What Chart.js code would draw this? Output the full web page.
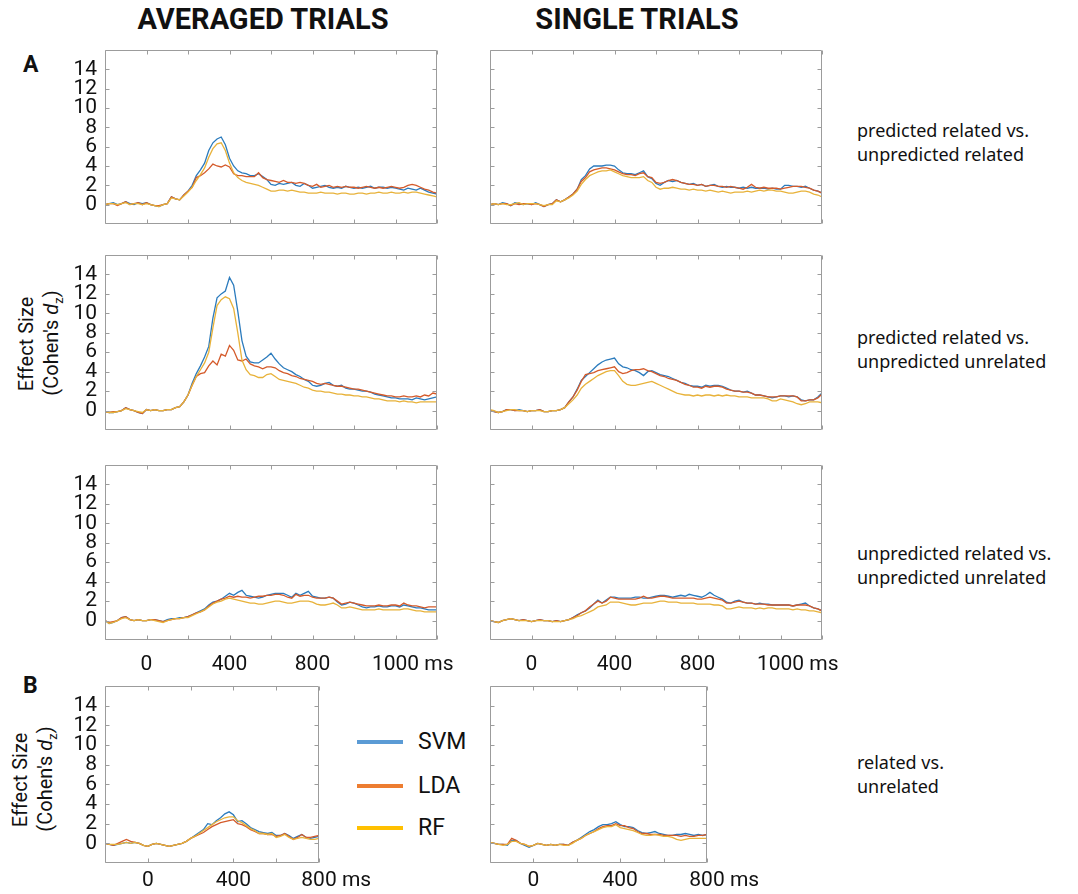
<!DOCTYPE html>
<html>
<head>
<meta charset="utf-8">
<script src="https://cdn.jsdelivr.net/npm/chart.js@4.4.1/dist/chart.umd.min.js"></script>
<style>
  body { margin: 0; background: #fff; }
  #page { position: relative; width: 1078px; height: 894px; overflow: hidden; font-family: Roboto, sans-serif; color: #111; }
  canvas { position: absolute; }
  .title { position: absolute; font-weight: 700; font-size: 29px; line-height: 29px; transform: translateX(-50%); white-space: nowrap; }
  .letter { position: absolute; font-weight: 700; font-size: 23px; line-height: 23px; }
  .row-label { position: absolute; left: 857px; font-family: "Noto Sans", sans-serif; font-size: 18px; line-height: 24px; white-space: nowrap; color: #111; }
  .ytitle { position: absolute; font-size: 20px; line-height: 20px; white-space: nowrap; transform: translate(-50%, -50%) rotate(-90deg); }
  .legend-line { position: absolute; left: 357px; width: 46px; height: 4px; }
  .legend-text { position: absolute; left: 418px; font-size: 23px; line-height: 23px; }
</style>
</head>
<body>
<div id="page">
  <div class="title" style="left:263px; top:5px;">AVERAGED TRIALS</div>
  <div class="title" style="left:637px; top:5px;">SINGLE TRIALS</div>
  <div class="letter" style="left:23px; top:53px;">A</div>
  <div class="letter" style="left:23px; top:674px;">B</div>

  <div class="ytitle" style="left:26px; top:344px;">Effect Size</div>
  <div class="ytitle" style="left:55px; top:343px;">(Cohen's <i>d</i><sub style="font-size:13px">z</sub>)</div>
  <div class="ytitle" style="left:20px; top:780px;">Effect Size</div>
  <div class="ytitle" style="left:49px; top:779px;">(Cohen's <i>d</i><sub style="font-size:13px">z</sub>)</div>

  <div class="row-label" style="top:118px;">predicted related vs.<br>unpredicted related</div>
  <div class="row-label" style="top:325px;">predicted related vs.<br>unpredicted unrelated</div>
  <div class="row-label" style="top:541px;">unpredicted related vs.<br>unpredicted unrelated</div>
  <div class="row-label" style="top:750px;">related vs.<br>unrelated</div>

  <div class="legend-line" style="top:740px; background:#5b9bd5;"></div>
  <div class="legend-text" style="top:730px;">SVM</div>
  <div class="legend-line" style="top:784px; background:#ed7d31;"></div>
  <div class="legend-text" style="top:774px;">LDA</div>
  <div class="legend-line" style="top:826px; background:#ffc000;"></div>
  <div class="legend-text" style="top:816px;">RF</div>
</div>
<script>
// time axis (ms)
const timesLong = [
  -200, -180, -160, -140, -120, -100, -80, -60, -40, -20,
  0, 20, 40, 60, 80, 100, 120, 140, 160, 180,
  200, 220, 240, 260, 280, 300, 320, 340, 360, 380,
  400, 420, 440, 460, 480, 500, 520, 540, 560, 580,
  600, 620, 640, 660, 680, 700, 720, 740, 760, 780,
  800, 820, 840, 860, 880, 900, 920, 940, 960, 980,
  1000, 1020, 1040, 1060, 1080, 1100, 1120, 1140, 1160, 1180,
  1200, 1220, 1240, 1260, 1280, 1300, 1320, 1340, 1360, 1380,
  1400
];
const timesShort = [
  -200, -180, -160, -140, -120, -100, -80, -60, -40, -20,
  0, 20, 40, 60, 80, 100, 120, 140, 160, 180,
  200, 220, 240, 260, 280, 300, 320, 340, 360, 380,
  400, 420, 440, 460, 480, 500, 520, 540, 560, 580,
  600, 620, 640, 660, 680, 700, 720, 740, 760, 780,
  800
];

const yTickValues = [0, 2, 4, 6, 8, 10, 12, 14];
const xTickMarksLong = [-200, 0, 200, 400, 600, 800, 1000, 1200, 1400];
const xTickMarksShort = [-200, 0, 200, 400, 600, 800];
const xLabelValuesLong = [0, 400, 800, 1200];
const xLabelTextsLong = ["0", "400", "800", "1000 ms"];
const xLabelValuesShort = [0, 400, 800];
const xLabelTextsShort = ["0", "400", "800 ms"];

const seriesNames = ["SVM", "LDA", "RF"];
const lineColors = ["#2b7bbd", "#d45a2a", "#e8b23a"];

// A, row 1: predicted related vs. unpredicted related
const avgRow1Svm = [
  0.0, 0.1, 0.2, 0.0, 0.1, 0.3, 0.1, 0.0, 0.2, 0.1,
  0.2, 0.0, -0.1, -0.2, 0.0, 0.1, 0.8, 0.6, 0.5, 1.0,
  1.4, 2.0, 3.0, 3.6, 4.3, 5.6, 6.4, 6.8, 7.0, 6.2,
  4.8, 4.0, 3.5, 3.3, 3.2, 3.0, 3.0, 3.2, 2.9, 2.6,
  2.1, 2.0, 2.2, 2.1, 2.2, 2.3, 2.0, 1.9, 2.2, 2.0,
  1.7, 1.8, 1.9, 2.0, 1.8, 1.7, 1.8, 1.7, 1.9, 1.8,
  1.7, 1.8, 1.7, 1.8, 1.9, 1.7, 1.8, 1.8, 1.7, 1.8,
  1.7, 1.6, 1.5, 1.7, 1.6, 1.5, 1.7, 1.5, 1.3, 1.2,
  1.1
];
const avgRow1Lda = [
  0.0, 0.1, 0.1, -0.1, 0.1, 0.3, 0.0, 0.1, 0.2, 0.0,
  0.2, 0.0, -0.1, -0.1, 0.0, 0.1, 0.8, 0.6, 0.5, 1.0,
  1.4, 1.8, 2.8, 3.0, 3.3, 3.7, 4.2, 4.0, 3.9, 4.1,
  3.9, 3.2, 3.0, 3.0, 2.9, 2.9, 2.9, 3.3, 2.8, 2.6,
  2.5, 2.4, 2.3, 2.5, 2.3, 2.3, 2.2, 2.3, 2.2, 2.0,
  1.9, 2.1, 1.8, 1.9, 2.0, 1.8, 1.9, 1.8, 1.9, 1.8,
  1.8, 1.7, 1.8, 1.9, 1.8, 1.7, 1.8, 1.7, 1.8, 1.9,
  1.8, 1.7, 1.8, 2.0, 2.1, 2.0, 1.8, 1.6, 1.5, 1.3,
  1.2
];
const avgRow1Rf = [
  0.0, 0.1, 0.1, 0.0, 0.1, 0.2, 0.0, 0.1, 0.1, 0.0,
  0.1, 0.0, -0.1, -0.2, 0.0, 0.1, 0.7, 0.6, 0.5, 0.9,
  1.3, 1.8, 2.5, 3.1, 3.8, 4.9, 5.8, 6.3, 6.4, 5.6,
  4.3, 3.3, 2.8, 2.5, 2.3, 2.2, 2.1, 2.0, 1.8, 1.6,
  1.4, 1.4, 1.5, 1.5, 1.4, 1.5, 1.4, 1.3, 1.3, 1.2,
  1.2, 1.2, 1.3, 1.2, 1.2, 1.2, 1.1, 1.2, 1.2, 1.1,
  1.1, 1.2, 1.2, 1.1, 1.2, 1.2, 1.3, 1.2, 1.2, 1.3,
  1.2, 1.2, 1.3, 1.2, 1.3, 1.3, 1.2, 1.1, 1.0, 0.9,
  0.8
];
const singleRow1Svm = [
  0.0, 0.1, 0.0, 0.2, 0.1, -0.1, 0.2, 0.1, 0.0, 0.1,
  0.0, 0.2, 0.0, -0.2, 0.0, 0.1, 0.5, 0.3, 0.5, 0.8,
  1.1, 1.6, 2.6, 3.0, 3.7, 4.0, 4.0, 4.0, 4.1, 4.1,
  4.0, 3.6, 3.3, 3.2, 3.2, 3.1, 3.3, 3.5, 2.9, 2.7,
  2.2, 2.0, 2.3, 2.5, 2.4, 2.5, 2.3, 2.2, 2.1, 2.2,
  2.0, 2.1, 1.9, 2.0, 2.1, 1.9, 1.8, 1.9, 1.8, 1.8,
  1.7, 1.8, 1.7, 1.8, 1.7, 1.7, 1.7, 1.6, 1.7, 1.6,
  1.6, 2.0, 2.0, 1.9, 1.9, 1.8, 1.9, 1.7, 1.5, 1.4,
  1.2
];
const singleRow1Lda = [
  0.0, 0.1, 0.0, 0.1, 0.1, -0.1, 0.1, 0.0, 0.1, 0.1,
  0.0, 0.1, 0.0, -0.2, 0.0, 0.1, 0.5, 0.3, 0.5, 0.8,
  1.1, 1.6, 2.4, 2.8, 3.4, 3.6, 3.7, 3.8, 3.8, 3.7,
  3.6, 3.4, 3.2, 3.1, 3.1, 3.0, 3.2, 3.3, 2.9, 2.8,
  2.3, 2.2, 2.3, 2.5, 2.6, 2.5, 2.3, 2.2, 2.1, 2.1,
  2.0, 2.1, 1.9, 2.0, 2.0, 1.9, 1.9, 1.8, 1.9, 1.8,
  1.7, 1.6, 1.8, 2.1, 1.8, 1.7, 1.8, 1.7, 1.7, 1.7,
  1.6, 1.7, 1.8, 1.9, 1.9, 1.9, 1.8, 1.7, 1.5, 1.4,
  1.2
];
const singleRow1Rf = [
  0.0, 0.1, 0.0, 0.1, 0.0, 0.0, 0.1, 0.2, 0.0, 0.1,
  0.1, 0.1, 0.0, -0.1, 0.0, 0.0, 0.4, 0.3, 0.5, 0.7,
  1.0, 1.4, 2.1, 2.6, 3.0, 3.2, 3.4, 3.5, 3.5, 3.6,
  3.4, 3.2, 3.0, 2.9, 2.8, 2.8, 2.8, 2.9, 2.5, 2.3,
  1.8, 1.6, 1.7, 1.7, 1.8, 1.7, 1.6, 1.6, 1.5, 1.6,
  1.5, 1.5, 1.4, 1.5, 1.4, 1.3, 1.4, 1.3, 1.2, 1.3,
  1.3, 1.3, 1.4, 1.3, 1.4, 1.5, 1.4, 1.5, 1.5, 1.4,
  1.4, 1.3, 1.2, 1.2, 1.3, 1.4, 1.4, 1.3, 1.1, 1.0,
  0.8
];

// A, row 2: predicted related vs. unpredicted unrelated
const avgRow2Svm = [
  -0.1, -0.2, -0.2, -0.1, 0.0, 0.3, 0.1, 0.0, -0.2, -0.3,
  0.1, 0.0, 0.1, 0.0, 0.0, 0.1, 0.1, 0.3, 0.4, 0.9,
  1.6, 2.8, 3.8, 4.6, 5.5, 6.6, 9.5, 11.6, 12.0, 12.3,
  13.7, 12.9, 10.2, 7.2, 5.6, 5.0, 4.9, 4.9, 5.2, 5.5,
  5.9, 5.3, 4.8, 4.4, 4.2, 4.0, 3.7, 3.5, 3.2, 3.0,
  2.6, 2.5, 2.6, 2.8, 2.9, 2.6, 2.5, 2.6, 2.3, 2.2,
  2.2, 2.1, 2.0, 2.0, 1.9, 1.7, 1.6, 1.5, 1.4, 1.3,
  1.3, 1.2, 1.2, 1.2, 1.1, 1.3, 1.2, 1.1, 1.2, 1.3,
  1.4
];
const avgRow2Lda = [
  -0.1, -0.2, -0.1, -0.1, 0.0, 0.3, 0.1, 0.0, -0.2, -0.3,
  0.1, 0.0, 0.1, 0.0, 0.0, 0.1, 0.1, 0.3, 0.4, 0.9,
  1.6, 2.6, 3.5, 3.8, 3.9, 4.6, 5.1, 4.7, 5.8, 5.6,
  6.7, 6.2, 5.2, 5.1, 5.3, 4.8, 4.6, 4.5, 4.3, 4.5,
  4.5, 4.4, 4.1, 3.9, 3.8, 3.6, 3.5, 3.3, 3.2, 3.1,
  3.0, 2.8, 2.7, 2.8, 2.7, 2.6, 2.5, 2.5, 2.4, 2.3,
  2.2, 2.2, 2.1, 2.0, 1.9, 1.8, 1.7, 1.6, 1.5, 1.5,
  1.4, 1.4, 1.5, 1.4, 1.4, 1.5, 1.4, 1.6, 1.5, 1.8,
  1.7
];
const avgRow2Rf = [
  -0.1, -0.2, -0.2, -0.1, 0.0, 0.2, 0.1, 0.0, -0.1, -0.2,
  0.1, 0.0, 0.1, 0.0, 0.0, 0.1, 0.1, 0.3, 0.4, 0.9,
  1.6, 2.6, 3.5, 4.2, 4.9, 6.0, 8.5, 10.8, 11.4, 11.7,
  11.5, 10.5, 8.0, 5.2, 4.2, 3.7, 3.6, 3.4, 3.4, 3.7,
  3.8, 3.5, 3.2, 3.1, 3.0, 2.9, 2.8, 2.6, 2.4, 2.3,
  2.1, 2.0, 2.0, 1.9, 1.9, 1.8, 1.7, 1.7, 1.6, 1.6,
  1.5, 1.5, 1.4, 1.4, 1.3, 1.2, 1.2, 1.1, 1.0, 1.0,
  1.0, 0.9, 1.0, 0.9, 0.9, 0.8, 0.9, 0.9, 0.9, 0.9,
  0.9
];
const singleRow2Svm = [
  0.0, -0.1, -0.2, -0.1, 0.1, 0.1, 0.0, 0.1, 0.0, -0.1,
  0.0, 0.0, 0.1, -0.1, -0.1, 0.0, 0.0, 0.1, 0.3, 0.9,
  1.4, 2.2, 3.1, 3.5, 3.9, 4.3, 4.7, 5.0, 5.2, 5.3,
  5.4, 4.8, 4.5, 4.4, 4.2, 4.1, 3.9, 3.6, 4.0, 4.1,
  3.9, 3.7, 3.6, 3.5, 3.3, 3.1, 2.9, 2.8, 2.6, 2.5,
  2.5, 2.4, 2.6, 2.5, 2.6, 2.6, 2.5, 2.3, 2.1, 2.0,
  2.0, 1.9, 2.0, 1.8, 1.6, 1.6, 1.5, 1.4, 1.3, 1.4,
  1.5, 1.5, 1.4, 1.5, 1.4, 1.1, 1.0, 1.1, 1.1, 1.4,
  1.8
];
const singleRow2Lda = [
  0.0, -0.1, -0.2, -0.1, 0.1, 0.1, 0.0, 0.0, 0.0, -0.1,
  0.0, 0.0, 0.1, -0.1, -0.1, 0.0, 0.0, 0.1, 0.3, 0.9,
  1.4, 2.1, 3.0, 3.7, 3.8, 3.9, 4.1, 4.2, 4.3, 4.4,
  4.5, 4.0, 3.8, 3.9, 4.1, 4.2, 4.2, 4.3, 4.1, 4.0,
  3.8, 3.6, 3.5, 3.3, 3.2, 3.1, 2.9, 2.7, 2.6, 2.4,
  2.4, 2.3, 2.5, 2.4, 2.5, 2.5, 2.4, 2.2, 2.1, 2.0,
  2.0, 1.9, 1.9, 1.8, 1.6, 1.6, 1.5, 1.4, 1.4, 1.4,
  1.5, 1.5, 1.5, 1.5, 1.4, 1.0, 1.0, 1.1, 1.1, 1.3,
  1.7
];
const singleRow2Rf = [
  0.1, 0.0, -0.2, -0.1, 0.0, 0.1, 0.1, 0.0, 0.0, -0.1,
  0.0, 0.0, 0.0, -0.1, -0.1, 0.0, 0.0, 0.1, 0.3, 0.7,
  1.1, 1.6, 2.3, 2.7, 3.0, 3.3, 3.6, 3.8, 4.0, 4.1,
  4.1, 3.6, 3.0, 2.7, 2.6, 2.6, 2.7, 2.8, 2.9, 3.0,
  2.8, 2.6, 2.4, 2.2, 2.0, 1.8, 1.7, 1.6, 1.6, 1.5,
  1.6, 1.5, 1.6, 1.6, 1.5, 1.6, 1.5, 1.6, 1.5, 1.5,
  1.4, 1.4, 1.4, 1.3, 1.3, 1.3, 1.3, 1.2, 1.0, 1.0,
  1.2, 1.1, 1.0, 0.9, 0.7, 0.6, 0.7, 0.9, 0.9, 0.9,
  0.8
];

// A, row 3: unpredicted related vs. unpredicted unrelated
const avgRow3Svm = [
  0.0, -0.3, -0.2, 0.0, 0.3, 0.4, 0.1, 0.0, 0.1, 0.0,
  0.0, 0.1, 0.1, 0.0, -0.1, 0.1, 0.2, 0.2, 0.3, 0.3,
  0.4, 0.6, 0.8, 1.0, 1.2, 1.6, 1.9, 2.0, 2.2, 2.5,
  2.8, 2.6, 2.9, 3.1, 2.6, 2.5, 2.4, 2.3, 2.4, 2.6,
  2.7, 2.8, 2.8, 2.8, 2.6, 2.4, 2.8, 2.6, 2.8, 3.0,
  2.5, 2.4, 2.3, 2.3, 2.4, 2.3, 1.9, 1.6, 1.7, 1.9,
  1.8, 1.6, 1.4, 1.3, 1.4, 1.4, 1.5, 1.4, 1.4, 1.5,
  1.5, 1.4, 1.6, 1.5, 1.4, 1.3, 1.3, 1.2, 1.1, 1.1,
  1.1
];
const avgRow3Lda = [
  0.0, -0.2, -0.1, 0.0, 0.3, 0.4, 0.1, 0.0, 0.1, 0.0,
  0.0, 0.1, 0.1, 0.0, -0.1, 0.0, 0.1, 0.2, 0.2, 0.3,
  0.4, 0.6, 0.8, 0.9, 1.1, 1.5, 1.8, 2.0, 2.2, 2.3,
  2.5, 2.4, 2.5, 2.4, 2.4, 2.3, 2.4, 2.5, 2.5, 2.6,
  2.6, 2.7, 2.7, 2.6, 2.4, 2.3, 2.7, 2.5, 2.6, 2.6,
  2.4, 2.3, 2.3, 2.3, 2.4, 2.3, 2.0, 1.7, 1.8, 1.9,
  1.8, 1.7, 1.6, 1.5, 1.5, 1.5, 1.6, 1.5, 1.5, 1.6,
  1.6, 1.5, 1.8, 1.6, 1.5, 1.5, 1.4, 1.3, 1.4, 1.4,
  1.4
];
const avgRow3Rf = [
  0.0, -0.3, -0.2, 0.0, 0.2, 0.3, 0.1, 0.0, 0.1, 0.0,
  0.0, 0.1, 0.0, -0.1, -0.2, 0.0, 0.1, 0.2, 0.2, 0.3,
  0.3, 0.5, 0.7, 0.9, 1.1, 1.4, 1.7, 1.9, 2.0, 2.2,
  2.3, 2.2, 2.1, 2.0, 1.9, 1.8, 1.8, 1.7, 1.7, 1.8,
  1.9, 2.0, 2.0, 1.9, 1.8, 1.8, 1.9, 2.0, 2.0, 2.0,
  1.9, 1.7, 1.6, 1.6, 1.7, 1.8, 1.6, 1.3, 1.3, 1.4,
  1.3, 1.2, 1.1, 1.1, 1.1, 1.1, 1.2, 1.1, 1.1, 1.1,
  1.1, 1.1, 1.2, 1.2, 1.1, 1.0, 1.0, 0.9, 0.9, 0.9,
  0.9
];
const singleRow3Svm = [
  0.0, -0.1, -0.2, 0.0, 0.1, 0.2, 0.1, 0.0, 0.1, 0.0,
  -0.1, 0.0, 0.1, 0.0, 0.0, -0.1, 0.0, -0.1, 0.0, 0.1,
  0.3, 0.6, 0.8, 1.0, 1.3, 1.7, 2.1, 1.8, 2.1, 2.4,
  2.4, 2.3, 2.3, 2.3, 2.3, 2.4, 2.4, 2.3, 2.3, 2.4,
  2.5, 2.6, 2.6, 2.5, 2.4, 2.5, 2.6, 2.5, 2.7, 2.6,
  2.5, 2.4, 2.6, 2.9, 2.6, 2.4, 2.2, 1.9, 1.8, 2.0,
  2.1, 1.9, 1.8, 1.8, 1.7, 1.8, 1.7, 1.7, 1.6, 1.6,
  1.6, 1.6, 1.6, 1.5, 1.6, 1.7, 1.8, 1.5, 1.3, 1.2,
  1.0
];
const singleRow3Lda = [
  0.0, -0.1, -0.2, 0.0, 0.1, 0.2, 0.1, 0.0, 0.1, 0.0,
  -0.1, 0.0, 0.1, 0.0, 0.0, -0.1, 0.0, -0.1, 0.0, 0.1,
  0.3, 0.5, 0.8, 1.0, 1.4, 1.7, 2.0, 1.8, 2.0, 2.4,
  2.3, 2.2, 2.2, 2.2, 2.2, 2.2, 2.3, 2.5, 2.3, 2.3,
  2.4, 2.5, 2.5, 2.4, 2.3, 2.3, 2.3, 2.3, 2.3, 2.3,
  2.2, 2.2, 2.3, 2.4, 2.3, 2.2, 2.1, 1.8, 1.8, 1.9,
  2.0, 1.9, 1.8, 1.8, 1.7, 1.7, 1.7, 1.6, 1.6, 1.6,
  1.6, 1.6, 1.6, 1.5, 1.6, 1.6, 1.6, 1.5, 1.3, 1.2,
  1.0
];
const singleRow3Rf = [
  0.0, -0.1, -0.2, 0.0, 0.1, 0.2, 0.1, 0.0, 0.0, 0.0,
  -0.1, 0.0, 0.0, 0.0, 0.0, -0.1, -0.1, -0.1, 0.0, 0.1,
  0.2, 0.4, 0.5, 0.7, 0.9, 1.1, 1.4, 1.5, 1.6, 1.9,
  1.9, 1.9, 1.8, 1.7, 1.6, 1.6, 1.7, 1.8, 1.8, 1.8,
  1.9, 2.0, 2.0, 1.9, 1.9, 1.9, 1.8, 1.8, 1.8, 1.8,
  1.7, 1.7, 1.7, 1.7, 1.6, 1.6, 1.5, 1.2, 1.2, 1.3,
  1.4, 1.3, 1.3, 1.3, 1.2, 1.3, 1.2, 1.3, 1.3, 1.2,
  1.2, 1.2, 1.2, 1.1, 1.2, 1.1, 1.1, 1.0, 1.0, 0.9,
  0.8
];

// B: related vs. unrelated
const avgBSvm = [
  0.0, -0.1, -0.2, -0.1, 0.0, 0.1, 0.0, 0.1, 0.0, -0.2,
  -0.3, -0.1, 0.0, -0.1, -0.2, -0.3, -0.2, -0.1, 0.0, 0.2,
  0.5, 0.8, 1.1, 1.4, 2.0, 1.9, 2.3, 2.6, 3.0, 3.2,
  2.9, 2.2, 2.3, 2.0, 1.6, 1.4, 1.2, 1.1, 1.0, 1.1,
  0.8, 0.8, 1.0, 0.8, 0.5, 0.7, 0.9, 0.6, 0.5, 0.6,
  0.7
];
const avgBLda = [
  0.0, -0.1, -0.2, 0.0, 0.2, 0.4, 0.2, 0.1, 0.0, -0.2,
  -0.3, -0.1, 0.0, -0.1, -0.2, -0.3, -0.2, -0.1, 0.0, 0.2,
  0.5, 0.7, 0.9, 1.1, 1.4, 1.7, 1.9, 2.1, 2.2, 2.3,
  2.4, 2.0, 1.9, 1.7, 1.4, 1.2, 1.0, 1.0, 0.9, 0.9,
  0.7, 0.8, 1.0, 0.7, 0.4, 0.6, 0.9, 0.6, 0.6, 0.7,
  0.8
];
const avgBRf = [
  0.0, -0.1, -0.1, -0.1, 0.0, 0.1, 0.0, 0.1, 0.0, -0.2,
  -0.3, -0.1, 0.0, -0.1, -0.2, -0.3, -0.2, -0.1, 0.0, 0.2,
  0.5, 0.7, 1.0, 1.3, 1.6, 1.9, 2.2, 2.4, 2.6, 2.7,
  2.7, 2.3, 2.1, 1.8, 1.5, 1.3, 1.0, 1.0, 0.9, 1.0,
  0.6, 0.7, 0.9, 0.6, 0.4, 0.5, 0.6, 0.5, 0.4, 0.4,
  0.5
];
const singleBSvm = [
  0.1, 0.0, -0.1, -0.1, -0.2, 0.3, 0.3, 0.0, -0.2, -0.4,
  -0.2, 0.0, -0.1, -0.2, -0.1, -0.2, -0.1, -0.1, -0.2, 0.1,
  0.3, 0.6, 0.9, 1.2, 1.4, 1.7, 1.9, 1.9, 2.0, 2.2,
  1.9, 1.7, 1.7, 1.6, 1.3, 1.1, 1.0, 1.1, 1.2, 1.0,
  0.9, 0.8, 0.8, 0.9, 0.9, 1.0, 0.9, 0.8, 0.9, 0.8,
  0.9
];
const singleBLda = [
  0.1, 0.0, -0.1, -0.1, -0.1, 0.5, 0.3, 0.0, -0.1, -0.3,
  -0.2, 0.0, -0.1, -0.2, -0.1, -0.2, -0.1, -0.1, -0.2, 0.1,
  0.3, 0.5, 0.8, 1.0, 1.2, 1.5, 1.7, 1.8, 1.8, 2.0,
  1.8, 1.8, 1.6, 1.5, 1.2, 1.0, 1.0, 0.9, 0.9, 0.9,
  0.8, 0.8, 0.8, 0.8, 0.7, 0.8, 0.7, 0.7, 0.8, 0.8,
  0.9
];
const singleBRf = [
  0.1, 0.0, -0.1, -0.2, -0.1, 0.2, 0.2, 0.0, -0.1, -0.3,
  -0.2, 0.0, -0.1, -0.2, -0.1, -0.2, -0.1, -0.2, -0.2, 0.0,
  0.3, 0.5, 0.8, 1.0, 1.2, 1.4, 1.6, 1.7, 1.7, 1.9,
  1.6, 1.5, 1.4, 1.3, 1.1, 0.9, 0.8, 0.8, 0.9, 0.8,
  0.7, 0.7, 0.6, 0.4, 0.3, 0.4, 0.5, 0.5, 0.5, 0.5,
  0.5
];

// box with inward ticks, MATLAB style
const matlabAxes = {
  id: "matlabAxes",
  afterDatasetsDraw(chart, args, opts) {
    const { ctx, chartArea: a, scales } = chart;
    const xs = scales.x, ys = scales.y;
    const L = Math.round(a.left) + 0.5, R = Math.round(a.right) - 0.5;
    const T = Math.round(a.top) + 0.5, B = Math.round(a.bottom) - 0.5;
    ctx.save();
    ctx.strokeStyle = "#9c9c9c";
    ctx.lineWidth = 1;
    ctx.beginPath();
    ctx.rect(L, T, R - L, B - T);
    opts.xTicks.forEach((t) => {
      const px = Math.round(xs.getPixelForValue(t)) + 0.5;
      ctx.moveTo(px, B); ctx.lineTo(px, B - 4);
      ctx.moveTo(px, T); ctx.lineTo(px, T + 4);
    });
    opts.yTicks.forEach((v) => {
      const py = Math.round(ys.getPixelForValue(v)) + 0.5;
      ctx.moveTo(L, py); ctx.lineTo(L + 4, py);
      ctx.moveTo(R, py); ctx.lineTo(R - 4, py);
    });
    ctx.stroke();

    ctx.fillStyle = "#111";
    ctx.font = "21px Roboto";
    ctx.textBaseline = "middle";
    if (opts.showY) {
      ctx.textAlign = "right";
      opts.yTicks.forEach((v) => {
        ctx.fillText(String(v), a.left - 8, ys.getPixelForValue(v));
      });
    }
    if (opts.xLabels) {
      ctx.textAlign = "left";
      opts.xLabels.forEach((val, i) => {
        const text = opts.xTexts[i];
        const num = text.split(" ")[0];
        const px = xs.getPixelForValue(val) - ctx.measureText(num).width / 2;
        ctx.fillText(text, px, a.bottom + opts.xLabelGap);
      });
    }
    ctx.restore();
  },
};

const page = document.getElementById("page");

function makePanel(rect, times, svm, lda, rf, axisOpts) {
  const padL = axisOpts.showY ? 100 : 10;
  const padR = 80, padT = 10, padB = 45;
  const canvas = document.createElement("canvas");
  canvas.width = rect.w + padL + padR;
  canvas.height = rect.h + padT + padB;
  canvas.style.left = rect.x - padL + "px";
  canvas.style.top = rect.y - padT + "px";
  page.appendChild(canvas);

  const values = [svm, lda, rf];
  new Chart(canvas, {
    type: "line",
    data: {
      labels: times,
      datasets: seriesNames.map((name, i) => ({
        label: name,
        data: values[i],
        borderColor: lineColors[i],
        borderWidth: 1.3,
        pointRadius: 0,
        tension: 0,
        order: 3 - i,
      })),
    },
    options: {
      responsive: false,
      animation: false,
      layout: { padding: { left: padL, right: padR, top: padT, bottom: padB } },
      scales: {
        x: { type: "linear", min: times[0], max: times[times.length - 1], display: false },
        y: { min: -2, max: 16, display: false },
      },
      plugins: {
        legend: { display: false },
        tooltip: { enabled: false },
        matlabAxes: axisOpts,
      },
    },
    plugins: [matlabAxes],
  });
}

const longTicks = { xTicks: xTickMarksLong, yTicks: yTickValues };
const shortTicks = { xTicks: xTickMarksShort, yTicks: yTickValues };

makePanel({ x: 105, y: 50, w: 332, h: 174 }, timesLong, avgRow1Svm, avgRow1Lda, avgRow1Rf, { ...longTicks, showY: true });
makePanel({ x: 490, y: 50, w: 332, h: 174 }, timesLong, singleRow1Svm, singleRow1Lda, singleRow1Rf, { ...longTicks, showY: false });
makePanel({ x: 105, y: 255, w: 332, h: 175 }, timesLong, avgRow2Svm, avgRow2Lda, avgRow2Rf, { ...longTicks, showY: true });
makePanel({ x: 490, y: 255, w: 332, h: 175 }, timesLong, singleRow2Svm, singleRow2Lda, singleRow2Rf, { ...longTicks, showY: false });
makePanel({ x: 105, y: 465, w: 332, h: 175 }, timesLong, avgRow3Svm, avgRow3Lda, avgRow3Rf,
  { ...longTicks, showY: true, xLabels: xLabelValuesLong, xTexts: xLabelTextsLong, xLabelGap: 25 });
makePanel({ x: 490, y: 465, w: 332, h: 175 }, timesLong, singleRow3Svm, singleRow3Lda, singleRow3Rf,
  { ...longTicks, showY: false, xLabels: xLabelValuesLong, xTexts: xLabelTextsLong, xLabelGap: 25 });
makePanel({ x: 105, y: 686, w: 214, h: 177 }, timesShort, avgBSvm, avgBLda, avgBRf,
  { ...shortTicks, showY: true, xLabels: xLabelValuesShort, xTexts: xLabelTextsShort, xLabelGap: 18 });
makePanel({ x: 490, y: 686, w: 217, h: 177 }, timesShort, singleBSvm, singleBLda, singleBRf,
  { ...shortTicks, showY: false, xLabels: xLabelValuesShort, xTexts: xLabelTextsShort, xLabelGap: 18 });
</script>
</body>
</html>
